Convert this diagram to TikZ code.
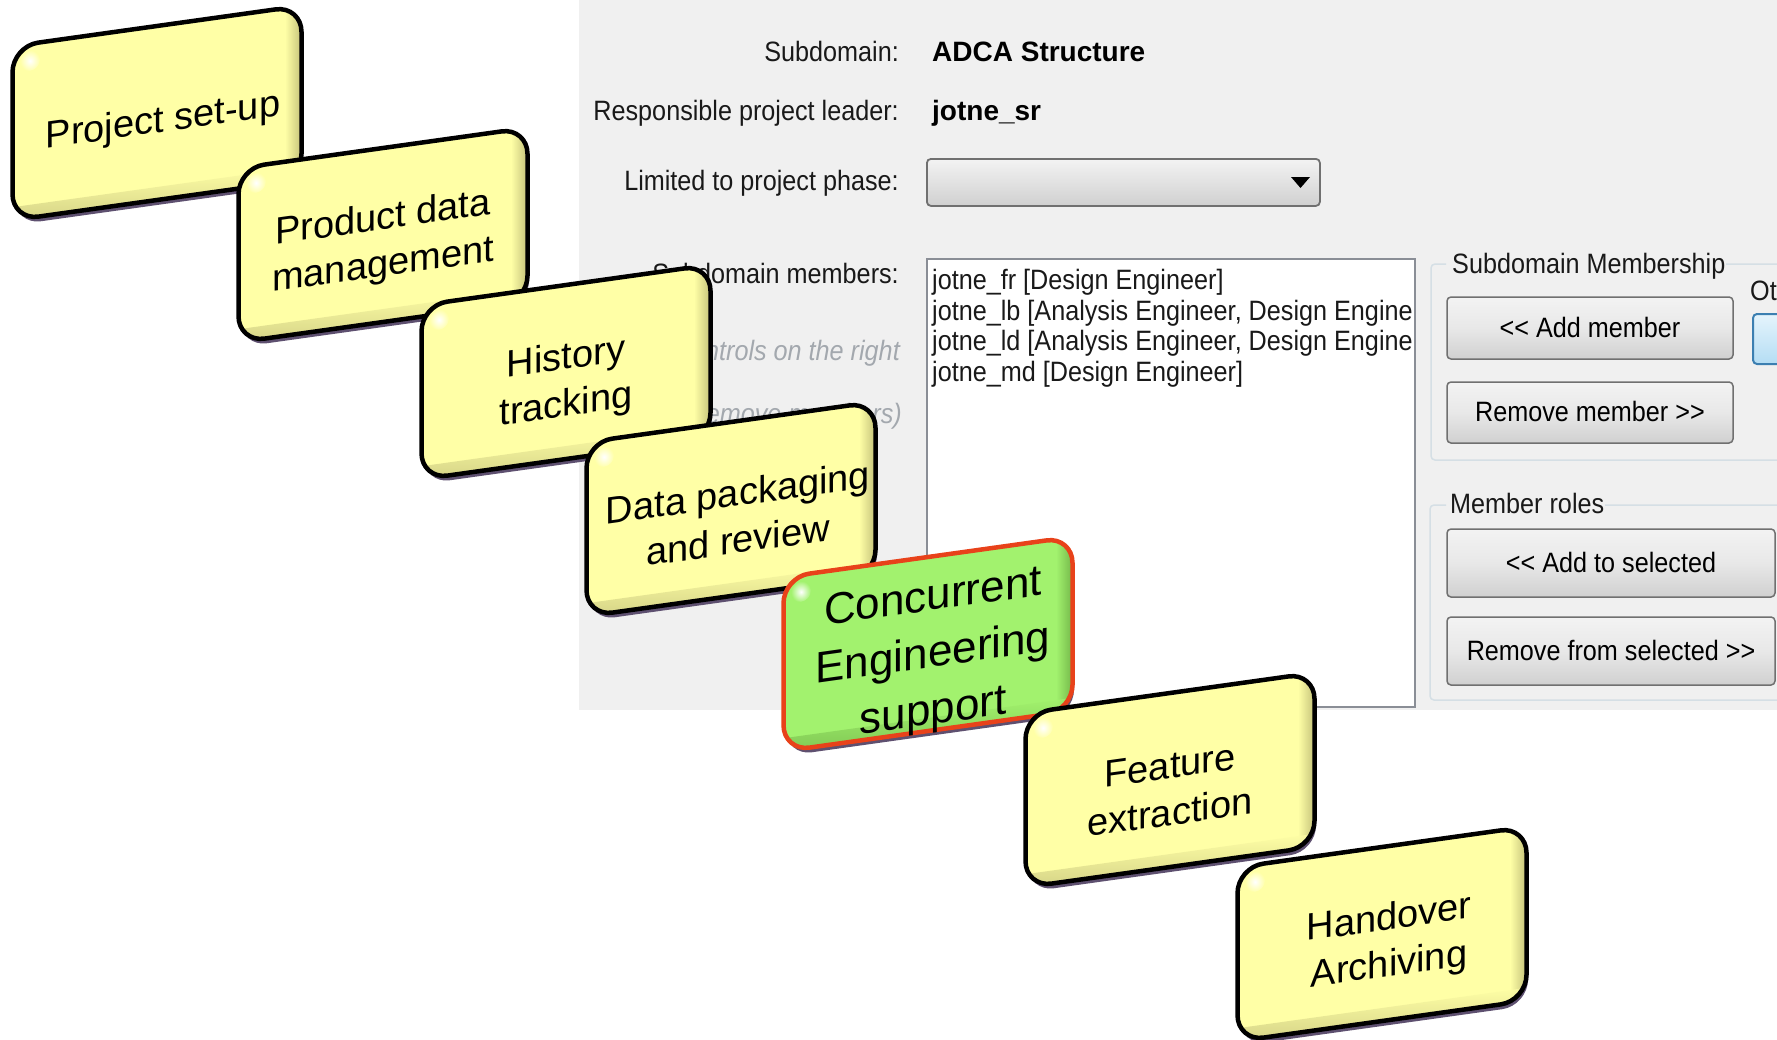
\documentclass[tikz,border=0pt]{standalone}
\usepackage{fontspec}
\setmainfont{Liberation Sans}
\newfontfamily\uifont{Liberation Sans}[FakeStretch=0.9]

% dialog colours
\definecolor{panelgray}{HTML}{F0F0F0}
\definecolor{uiborder}{HTML}{707070}
\definecolor{listborder}{HTML}{8A8E96}
\definecolor{groupline}{HTML}{D5DFE5}
\definecolor{hinttext}{HTML}{A3A8AE}
\definecolor{btntop}{HTML}{F3F3F3}
\definecolor{btnmid}{HTML}{E8E8E8}
\definecolor{btnbot}{HTML}{D0D0D0}
\definecolor{bluebtnborder}{HTML}{3C7FB1}
\definecolor{bluebtntop}{HTML}{E5F4FC}
\definecolor{bluebtnbot}{HTML}{B4DDF4}
% card colours (prefix y = yellow card, g = green card)
\definecolor{yfill}{HTML}{FFFFA6}
\definecolor{ybevel}{HTML}{C4C27A}
\definecolor{yline}{HTML}{000000}
\definecolor{gfill}{HTML}{A2F26E}
\definecolor{gbevel}{HTML}{74B84A}
\definecolor{gline}{HTML}{E8421A}
\definecolor{cardshadow}{HTML}{5E5070}

\newcommand\cardfontA{\fontsize{38}{47}\selectfont}
\newcommand\cardfontB{\fontsize{44}{57}\selectfont}
\newcommand\uisize{\fontsize{28}{34}\selectfont}

% #1 node name, #2 x, #3 y (downwards), #4 colour prefix, #5 font,
% #6 text position inside the card, #7 text
\newcommand{\phasecard}[7]{%
  \begin{scope}[shift={(#2,-#3)}, yslant=0.14]
    \fill[cardshadow, rounded corners=26pt] (-142,-92) rectangle (146,82);
    \fill[#4fill, rounded corners=26pt] (-144.5,-87) rectangle (144.5,87);
    \begin{scope}
      \clip[rounded corners=26pt] (-144.5,-87) rectangle (144.5,87);
      \shade[left color=#4fill, right color=#4bevel] (128,-87) rectangle (144.5,87);
      \shade[top color=#4fill, bottom color=#4bevel, opacity=0.7] (-144.5,-87) rectangle (144.5,-74);
      \shade[inner color=white, outer color=#4fill] (-127,70) circle (10);
    \end{scope}
    \draw[#4line, line width=4.5pt, rounded corners=26pt] (-144.5,-87) rectangle (144.5,87);
    \node[cardtext, font=#5] (#1) at (#6) {#7};
  \end{scope}}

\begin{document}
\begin{tikzpicture}[x=1pt, y=1pt,
  uilabel/.style={font=\uifont\uisize, inner sep=0pt, text=black!90},
  uivalue/.style={font=\uisize\bfseries, inner sep=0pt, text=black},
  hint/.style={font=\uifont\itshape\uisize, inner sep=0pt, text=hinttext},
  winbutton/.style={draw=uiborder, line width=1.5pt, rounded corners=4pt,
    top color=btntop, bottom color=btnbot, middle color=btnmid,
    font=\uifont\uisize, text height=22pt, text depth=4pt, inner sep=0pt},
  groupframe/.style={draw=groupline, line width=1.5pt, rounded corners=4pt},
  cardtext/.style={align=center, transform shape, inner sep=0pt, text=black}]

\clip (0,0) rectangle (1777,-1039);
\fill[white] (0,0) rectangle (1777,-1039);

% dialog panel
\fill[panelgray] (579,0) rectangle (1777,-710);

% field labels and values
\node[uilabel, anchor=base east] (lblsub) at (899,-61) {Subdomain:};
\node[uivalue, anchor=base west] (valsub) at (932,-61) {ADCA Structure};
\node[uilabel, anchor=base east] (lbllead) at (899,-120) {Responsible project leader:};
\node[uivalue, anchor=base west] (vallead) at (932,-120) {jotne\_sr};
\node[uilabel, anchor=base east] (lblphase) at (899,-190) {Limited to project phase:};
\node[uilabel, anchor=base east] (lblmembers) at (899,-283) {Subdomain members:};
\node[hint, anchor=base east] (hintA) at (900,-360) {controls on the right};
\node[hint, anchor=base east] (hintB) at (902,-423) {remove members)};

% phase drop-down
\node[draw=uiborder, line width=1.8pt, rounded corners=4pt, top color=btntop,
  bottom color=btnbot, minimum width=393pt, minimum height=47pt, inner sep=0pt,
  anchor=north west] (phasecombo) at (926,-158) {};
\fill[black] (1291,-177) -- (1310,-177) -- (1300.5,-188) -- cycle;

% member list
\node[draw=listborder, line width=2pt, fill=white, minimum width=488pt,
  minimum height=448pt, inner sep=0pt, anchor=north west] (memberlist) at (926,-258) {};
\begin{scope}
  \clip (928,-260) rectangle (1412,-704);
  \node[uilabel, anchor=base west] (m1) at (932,-289) {jotne\_fr [Design Engineer]};
  \node[uilabel, anchor=base west] (m2) at (932,-320) {jotne\_lb [Analysis Engineer, Design Engineer]};
  \node[uilabel, anchor=base west] (m3) at (932,-350.5) {jotne\_ld [Analysis Engineer, Design Engineer]};
  \node[uilabel, anchor=base west] (m4) at (932,-381) {jotne\_md [Design Engineer]};
\end{scope}

% membership group
\draw[groupframe] (1726,-264) -- (1800,-264) -- (1800,-460) -- (1431,-460) -- (1431,-264) -- (1446,-264);
\node[uilabel, anchor=base west] (grpmember) at (1452,-273) {Subdomain Membership};
\node[winbutton, minimum width=286pt, minimum height=62pt] (addmember) at (1590,-328) {<< Add member};
\node[winbutton, minimum width=286pt, minimum height=61pt] (removemember) at (1590,-412.5) {Remove member >>};
\node[uilabel, anchor=base west] (otherlbl) at (1750,-300) {Ot};
\node[draw=bluebtnborder, line width=2pt, rounded corners=4pt, top color=bluebtntop,
  bottom color=bluebtnbot, minimum width=60pt, minimum height=50pt, inner sep=0pt,
  anchor=north west] (otherbtn) at (1752,-313) {};

% role group
\draw[groupframe] (1605,-505) -- (1800,-505) -- (1800,-700) -- (1430,-700) -- (1430,-505) -- (1446,-505);
\node[uilabel, anchor=base west] (grproles) at (1450,-513) {Member roles};
\node[winbutton, minimum width=328pt, minimum height=68pt] (addsel) at (1611,-563) {<< Add to selected};
\node[winbutton, minimum width=328pt, minimum height=68pt] (removesel) at (1611,-651) {Remove from selected >>};

% phase cards, back to front
\phasecard{setup}{157}{113}{y}{\cardfontA}{6,-10}{Project set-up}
\phasecard{pdm}{383}{235}{y}{\cardfontA}{0,-8}{Product data\\management}
\phasecard{history}{566}{372}{y}{\cardfontA}{0,-11}{History\\tracking}
\phasecard{packaging}{731}{509}{y}{\cardfontA}{7,-8}{Data packaging\\and review}
\phasecard{concurrent}{928}{644}{g}{\cardfontB}{5,-13}{Concurrent\\Engineering\\support}
\phasecard{feature}{1170}{780}{y}{\cardfontA}{0,-9}{Feature\\extraction}
\phasecard{handover}{1382}{934}{y}{\cardfontA}{7,-10}{Handover\\Archiving}

\end{tikzpicture}
\end{document}
